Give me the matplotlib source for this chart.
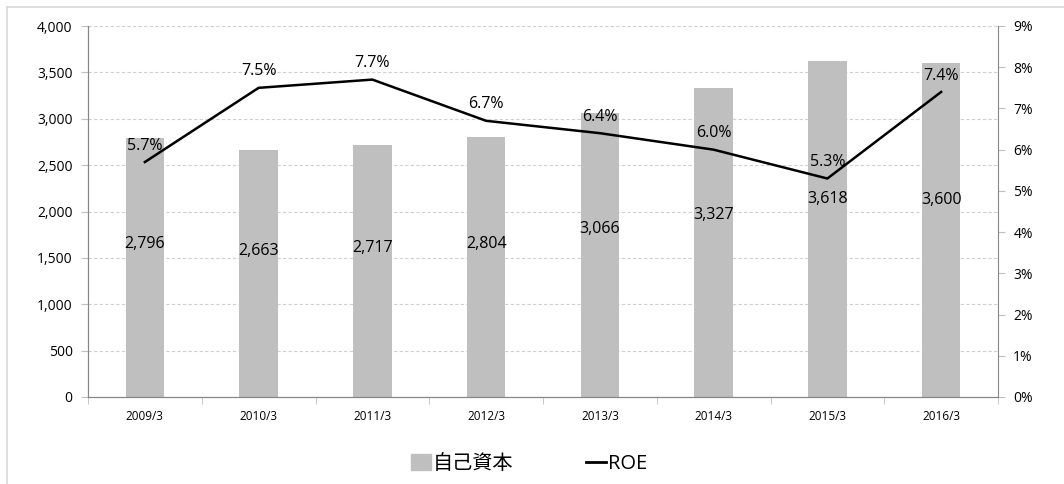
import matplotlib
matplotlib.use("Agg")
import matplotlib.pyplot as plt
from matplotlib.lines import Line2D
from matplotlib.patches import Patch
import numpy as np

plt.rcParams['font.family'] = ['Open Sans', 'Noto Sans CJK JP', 'DejaVu Sans']

# data
years = ['2009/3', '2010/3', '2011/3', '2012/3', '2013/3', '2014/3', '2015/3', '2016/3']
equity = [2796, 2663, 2717, 2804, 3066, 3327, 3618, 3600]
roe = [5.7, 7.5, 7.7, 6.7, 6.4, 6.0, 5.3, 7.4]

W, H = 1064, 484
fig = plt.figure(figsize=(W / 100, H / 100), dpi=100)
ax = fig.add_axes([88 / W, 1 - 397 / H, (998 - 88) / W, (397 - 26) / H])
ax2 = ax.twinx()

x = np.arange(len(years))
ax.bar(x, equity, width=0.34, color='#bfbfbf', zorder=2)
ax.set_xlim(-0.5, len(years) - 0.5)
ax.set_ylim(0, 4000)
ax.set_yticks(np.arange(0, 4001, 500))
ax.set_yticklabels(['{:,}'.format(v) for v in range(0, 4001, 500)], fontsize=10)
ax.grid(axis='y', color='#d0d0d0', linestyle=(0, (3, 2)), linewidth=0.8, zorder=0)
ax.set_axisbelow(True)

ax.set_xticks(x)
ax.set_xticklabels(years, fontsize=8.5)
ax.set_xticks(np.arange(-0.5, len(years)), minor=True)
ax.tick_params(axis='x', which='major', length=0, pad=9)
ax.tick_params(axis='x', which='minor', length=5, color='#bfbfbf')
ax.tick_params(axis='y', length=5, color='#bfbfbf', pad=6)

# bar value labels
for i, v in enumerate(equity):
    ax.text(i, v * 0.59, '{:,}'.format(v), ha='center', va='center', fontsize=11.5, zorder=5)

ax2.plot(x, roe, color='black', linewidth=1.8, zorder=4)
ax2.set_ylim(0, 9)
ax2.set_yticks(range(0, 10))
ax2.set_yticklabels(['{}%'.format(v) for v in range(0, 10)], fontsize=10)
ax2.tick_params(axis='y', length=5, color='#bfbfbf', pad=6)
for i, v in enumerate(roe):
    ax2.annotate('{:.1f}%'.format(v), (i, v), xytext=(0, 6), textcoords='offset points',
                 ha='center', va='bottom', fontsize=11.5)

for a in (ax, ax2):
    a.spines['top'].set_visible(False)
    for s in ('left', 'right', 'bottom'):
        a.spines[s].set_color('#868686')
ax.spines['right'].set_visible(False)

# outer frame
fig.add_artist(Line2D([7 / W, 7 / W], [0, 1 - 7 / H], color='#d9d9d9', linewidth=1.2))
fig.add_artist(Line2D([7 / W, 1], [1 - 7 / H, 1 - 7 / H], color='#d9d9d9', linewidth=1.2))

handles = [Patch(color='#bfbfbf'), Line2D([0], [0], color='black', linewidth=2)]
fig.legend(handles, ['自己資本', 'ROE'], loc='center', bbox_to_anchor=(0.497, 1 - 464 / H),
           ncol=2, frameon=False, fontsize=14.5, handlelength=1.0, handleheight=0.8,
           handletextpad=0.1, columnspacing=3.6)

fig.savefig('out.png', dpi=100)
